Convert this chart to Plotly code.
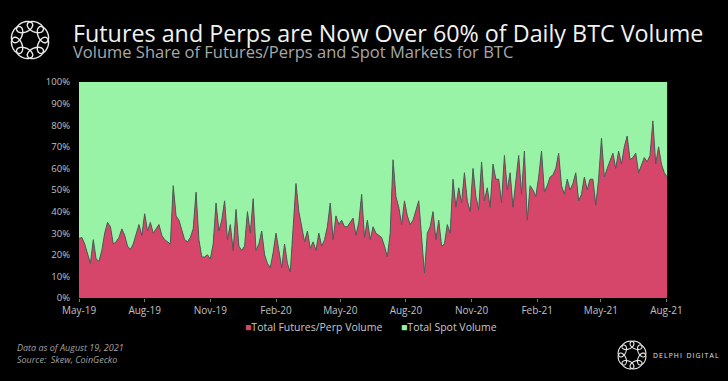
import numpy as np
import pandas as pd
import plotly.graph_objects as go

# ---- data (share of BTC volume, %, sampled every 4 days from 2019-05-01) ----
start_date = "2019-05-01"
step_days = 4
futures_share = [
    27.6, 28, 25, 21, 16, 27, 18, 17, 22, 30,
    35, 33, 25, 26, 28, 32, 29, 24, 22.5, 25,
    30, 34, 29, 39, 31, 35, 30, 32, 34, 29,
    27, 26, 25, 52, 38, 36, 31, 27, 26, 28,
    32, 49, 27, 19, 19, 20, 18, 25, 44, 31,
    36, 45, 27, 34, 22, 41, 24, 22, 24, 40,
    30, 46, 22, 25, 31, 20, 16, 14, 21, 30,
    22, 14, 25, 16, 12, 33, 53, 40, 33, 26,
    31, 23, 26, 22, 30, 24, 27, 33, 44, 27,
    38, 34, 36, 33, 33, 35, 37, 29, 35, 48,
    28, 36, 27, 33, 30, 29, 28, 24, 19, 30,
    64, 47, 42,
    34, 45, 38, 34,
    36, 40, 45, 28, 11.5, 30, 33, 40, 27, 36,
    24, 25, 34, 30, 55, 42, 51, 44, 58, 45,
    40, 60, 47, 41, 63, 45, 51, 42, 62, 55,
    55, 44, 66, 50, 58, 42, 55, 66, 48, 68,
    36, 52, 50, 47, 56, 68, 49, 52, 56, 57,
    60, 67, 52, 48, 55, 50, 53, 58, 45,
    48, 56, 50, 55, 55, 43, 55, 74, 56, 60,
    64, 67, 60, 68, 62, 70, 75, 64, 65, 67,
    58, 62, 65, 63, 66, 82, 62, 70, 62, 58, 56,
]
dates = pd.date_range(start_date, periods=len(futures_share), freq=f"{step_days}D")
spot_share = [100 - v for v in futures_share]
total_share = [100] * len(futures_share)

tick_dates = ["2019-05-01", "2019-08-01", "2019-11-01", "2020-02-01", "2020-05-01",
              "2020-08-01", "2020-11-01", "2021-02-01", "2021-05-01", "2021-08-01"]
tick_labels = ["May-19", "Aug-19", "Nov-19", "Feb-20", "May-20",
               "Aug-20", "Nov-20", "Feb-21", "May-21", "Aug-21"]
y_ticks = [0, 10, 20, 30, 40, 50, 60, 70, 80, 90, 100]
y_labels = [f"{v}%" for v in y_ticks]

series_names = ["Total Futures/Perp Volume", "Total Spot Volume"]

# ---- styling ----
W, H = 728, 381
L, R, T, B = 79, 670, 82, 298
RED = "#d6466b"
GREEN = "#98f3a6"
EDGE = "#4f5a57"
FONT = "Open Sans"


def px(xp):
    return (xp - L) / (R - L)


def py(yp):
    return (B - yp) / (B - T)


fig = go.Figure()
fig.add_trace(go.Scatter(
    x=dates, y=futures_share, name=series_names[0], mode="lines",
    line=dict(color=EDGE, width=1), fill="tozeroy", fillcolor=RED,
    showlegend=False, hoverinfo="skip"))
fig.add_trace(go.Scatter(
    x=dates, y=total_share, customdata=spot_share, name=series_names[1], mode="lines",
    line=dict(color=GREEN, width=0), fill="tonexty", fillcolor=GREEN,
    showlegend=False, hoverinfo="skip"))


def ring_logo(cx, cy, R0, a, b, n=8, width=1.4):
    shapes = []
    t = np.linspace(0, 2 * np.pi, 40)
    for k in range(n):
        ang = 2 * np.pi * k / n + np.pi / n
        ex, ey = cx + R0 * np.cos(ang), cy + R0 * np.sin(ang)
        ux, uy = -np.sin(ang), np.cos(ang)
        vx, vy = np.cos(ang), np.sin(ang)
        xs = ex + a * np.cos(t) * ux + b * np.sin(t) * vx
        ys = ey + a * np.cos(t) * uy + b * np.sin(t) * vy
        path = "M " + " L ".join(f"{px(x):.5f},{py(y):.5f}" for x, y in zip(xs, ys)) + " Z"
        shapes.append(dict(type="path", path=path, xref="paper", yref="paper",
                           line=dict(color="#e8e8e8", width=width), layer="above"))
    return shapes


shapes = ring_logo(30, 40, 14, 8.5, 5.0) + ring_logo(632, 355, 10.5, 6.3, 3.7, width=1.1)

brand = "\u2009".join("DELPHI") + "\u2002\u2009" + "\u2009".join("DIGITAL")

annotations = [
    dict(text="Futures and Perps are Now Over 60% of Daily BTC Volume", x=px(71), y=py(33),
         xref="paper", yref="paper", xanchor="left", yanchor="middle", showarrow=False,
         font=dict(family=FONT, size=23.3, color="#f2f2f2")),
    dict(text="Volume Share of Futures/Perps and Spot Markets for BTC", x=px(71), y=py(51.5),
         xref="paper", yref="paper", xanchor="left", yanchor="middle", showarrow=False,
         font=dict(family=FONT, size=16.5, color="#a8a8a8")),
    dict(text=f"<span style='color:{RED}'>■</span>{series_names[0]}", x=px(243), y=py(327),
         xref="paper", yref="paper", xanchor="left", yanchor="middle", showarrow=False,
         font=dict(family=FONT, size=10.5, color="#c8c8c8")),
    dict(text=f"<span style='color:{GREEN}'>■</span>{series_names[1]}", x=px(399), y=py(327),
         xref="paper", yref="paper", xanchor="left", yanchor="middle", showarrow=False,
         font=dict(family=FONT, size=10.5, color="#c8c8c8")),
    dict(text="<i>Data as of August 19, 2021<br>Source:  Skew, CoinGecko</i>",
         x=px(15), y=py(353.5), align="left",
         xref="paper", yref="paper", xanchor="left", yanchor="middle", showarrow=False,
         font=dict(family=FONT, size=9, color="#a0a0a0")),
    dict(text=brand, x=px(651), y=py(355),
         xref="paper", yref="paper", xanchor="left", yanchor="middle", showarrow=False,
         font=dict(family=FONT, size=6.8, color="#e0e0e0")),
]

fig.update_layout(
    width=W, height=H,
    margin=dict(l=L, r=W - R, t=T, b=H - B, pad=0),
    paper_bgcolor="#000000", plot_bgcolor="#000000",
    shapes=shapes, annotations=annotations,
    showlegend=False,
    font=dict(family=FONT, color="#c0c0c0"),
)
fig.update_xaxes(
    range=["2019-05-01", "2021-08-06"],
    tickvals=tick_dates, ticktext=tick_labels,
    showgrid=False, zeroline=False, showline=False,
    ticks="outside", ticklen=3, tickcolor="#777",
    tickfont=dict(family=FONT, size=10, color="#c0c0c0"),
)
fig.update_yaxes(
    range=[0, 100], tickvals=y_ticks, ticktext=y_labels,
    showgrid=False, zeroline=False, showline=False,
    ticks="", ticklabelstandoff=8,
    tickfont=dict(family=FONT, size=9.5, color="#c0c0c0"),
)

fig.write_html("out.html", config={"displayModeBar": False},
               post_script="document.body.style.margin='0';document.body.style.background='#000';")
